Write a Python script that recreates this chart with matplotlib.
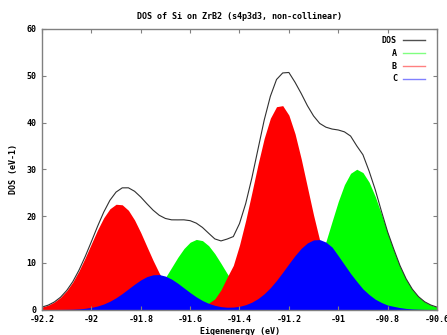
import matplotlib
matplotlib.use("Agg")
import matplotlib.pyplot as plt
from matplotlib.lines import Line2D

# --- datos (paso 0.025 eV) ---
energia = [-92.200, -92.175, -92.150, -92.125, -92.100, -92.075, -92.050, -92.025,
           -92.000, -91.975, -91.950, -91.925, -91.900, -91.875, -91.850, -91.825,
           -91.800, -91.775, -91.750, -91.725, -91.700, -91.675, -91.650, -91.625,
           -91.600, -91.575, -91.550, -91.525, -91.500, -91.475, -91.450, -91.425,
           -91.400, -91.375, -91.350, -91.325, -91.300, -91.275, -91.250, -91.225,
           -91.200, -91.175, -91.150, -91.125, -91.100, -91.075, -91.050, -91.025,
           -91.000, -90.975, -90.950, -90.925, -90.900, -90.875, -90.850, -90.825,
           -90.800, -90.775, -90.750, -90.725, -90.700, -90.675, -90.650, -90.625,
           -90.600]

dos_A = [0, 0, 0, 0, 0, 0, 0, 0,
         0, 0.01, 0.02, 0.04, 0.09, 0.20, 0.39, 0.73,
         1.28, 2.13, 3.33, 4.91, 6.84, 8.99, 11.15, 13.04,
         14.39, 14.99, 14.73, 13.65, 11.94, 9.86, 7.68, 5.64,
         3.92, 2.57, 1.58, 0.92, 0.55, 0.36, 0.35, 0.52,
         0.92, 1.65, 2.85, 4.68, 7.23, 10.53, 14.52, 18.84,
         23.10, 26.70, 29.13, 30.00, 29.29, 27.24, 24.16, 20.41,
         16.44, 12.62, 9.23, 6.43, 4.27, 2.71, 1.63, 0.94,
         0.51]

dos_B = [0.52, 0.93, 1.60, 2.60, 4.02, 5.90, 8.29, 11.07,
         14.06, 17.02, 19.62, 21.54, 22.51, 22.40, 21.22, 19.14,
         16.45, 13.45, 10.49, 7.77, 5.49, 3.69, 2.40, 1.52,
         0.99, 0.78, 0.90, 1.35, 2.27, 4.20, 6.90, 9.44,
         13.77, 19.04, 24.97, 31.05, 36.60, 40.91, 43.38, 43.61,
         41.58, 37.58, 32.22, 26.19, 20.19, 14.76, 10.23, 6.72,
         4.19, 2.47, 1.39, 0.74, 0.37, 0.18, 0.08, 0.03,
         0.01, 0, 0, 0, 0, 0, 0, 0,
         0]

dos_C = [0, 0, 0.01, 0.02, 0.04, 0.07, 0.14, 0.26,
         0.45, 0.75, 1.18, 1.77, 2.52, 3.42, 4.42, 5.42,
         6.33, 7.04, 7.43, 7.47, 7.14, 6.50, 5.62, 4.62,
         3.62, 2.70, 1.92, 1.31, 0.89, 0.61, 0.49, 0.52,
         0.69, 1.03, 1.57, 2.34, 3.37, 4.67, 6.23, 7.97,
         9.79, 11.55, 13.09, 14.24, 14.89, 14.95, 14.42, 13.35,
         11.50, 9.60, 7.70, 6.00, 4.40, 3.20, 2.20, 1.50,
         0.95, 0.67, 0.40, 0.23, 0.12, 0.07, 0.03, 0.02,
         0.01]

dos_total = [0.52, 0.93, 1.61, 2.62, 4.06, 5.97, 8.43, 11.33,
             14.51, 17.78, 20.82, 23.35, 25.12, 26.02, 26.03, 25.29,
             24.06, 22.62, 21.25, 20.15, 19.47, 19.18, 19.17, 19.18,
             19.00, 18.47, 17.55, 16.31, 15.10, 14.67, 15.07, 15.60,
             18.38, 22.64, 28.12, 34.31, 40.50, 45.60, 49.20, 50.60,
             50.70, 48.60, 46.20, 43.60, 41.40, 39.80, 39.00, 38.60,
             38.40, 38.00, 37.10, 35.00, 33.10, 29.60, 25.60, 21.00,
             16.60, 12.90, 9.40, 6.55, 4.35, 2.75, 1.65, 0.95,
             0.51]

xticks = [-92.2, -92.0, -91.8, -91.6, -91.4, -91.2, -91.0, -90.8, -90.6]
xtick_labels = ["-92.2", "-92", "-91.8", "-91.6", "-91.4", "-91.2", "-91", "-90.8", "-90.6"]
yticks = [0, 10, 20, 30, 40, 50, 60]

# --- figura ---
W, H = 447, 335
fig = plt.figure(figsize=(W / 100, H / 100), dpi=100)
ax = fig.add_axes([42 / W, (H - 309.5) / H, (437 - 42) / W, (309.5 - 29) / H])

fuente = dict(family="DejaVu Sans Mono", weight="bold", size=6)

ax.fill_between(energia, 0, dos_A, color="#00ff00", lw=0)
ax.fill_between(energia, 0, dos_B, color="#ff0000", lw=0)
ax.fill_between(energia, 0, dos_C, color="#0000ff", lw=0)
ax.plot(energia, dos_total, color="#303030", lw=0.8)

ax.set_xlim(-92.2, -90.6)
ax.set_ylim(0, 60)
ax.set_xticks(xticks)
ax.set_xticklabels(xtick_labels, fontdict=fuente)
ax.set_yticks(yticks)
ax.set_yticklabels([str(v) for v in yticks], fontdict=fuente)
ax.tick_params(direction="in", length=3, width=0.8, color="#808080",
               top=True, right=True, pad=4)
for s in ax.spines.values():
    s.set_color("#808080")
    s.set_linewidth(1)

ax.set_title("DOS of Si on ZrB2 (s4p3d3, non-collinear)", fontdict=fuente, pad=7.5)
ax.set_xlabel("Eigenenergy (eV)", fontdict=fuente, labelpad=2)
ax.set_ylabel("DOS (eV-1)", fontdict=fuente, labelpad=6)

handles = [Line2D([], [], color="#505050", lw=1),
           Line2D([], [], color="#80ff80", lw=1),
           Line2D([], [], color="#ff8080", lw=1),
           Line2D([], [], color="#8080ff", lw=1)]
leg = ax.legend(handles, ["DOS", "A", "B", "C"], loc="upper right",
                bbox_to_anchor=(0.985, 0.995), frameon=False, markerfirst=False,
                prop=dict(family="DejaVu Sans Mono", weight="bold", size=6),
                handlelength=2.7, handletextpad=0.7, labelspacing=0.45,
                borderaxespad=0.3)

fig.savefig("out.png", dpi=100)
